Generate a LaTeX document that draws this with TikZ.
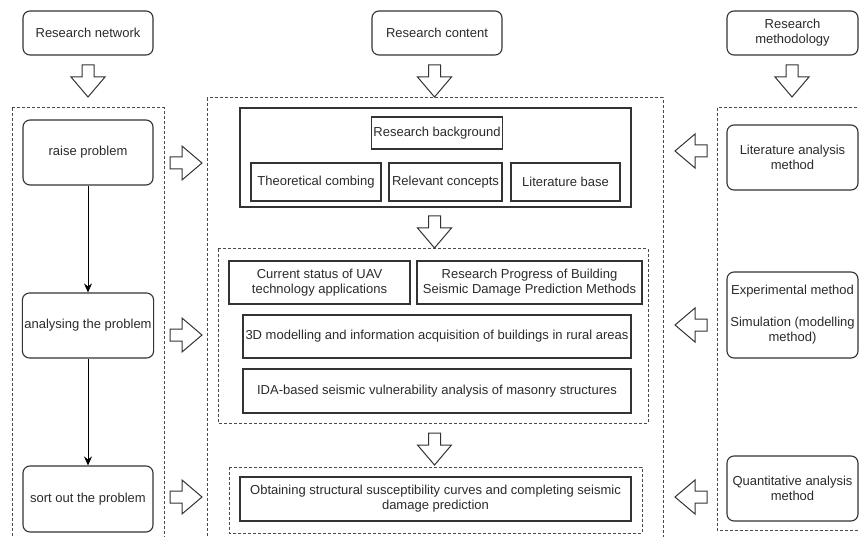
\documentclass[tikz,border=0pt]{standalone}
\usepackage{fontspec}
\setmainfont{Liberation Sans}
\usetikzlibrary{arrows.meta}
\definecolor{ink}{HTML}{2B2B2B}
\definecolor{edge}{HTML}{333333}
\definecolor{dash}{HTML}{4A4A4A}
\tikzset{
  base/.style={draw=edge, line width=1.1pt, text=ink, align=center,
    font=\fontsize{13}{15}\selectfont, inner sep=2pt},
  roundbox/.style={base, rounded corners=7pt},
  flatbox/.style={base},
  dashbox/.style={draw=dash, line width=1pt, dash pattern=on 3pt off 2pt},
  flow/.style={draw=black, line width=1pt, -{Stealth[length=9pt,width=8pt]}},
  blockarrow/.pic={
    \draw[draw=edge, line width=1pt, fill=white, line join=miter]
      (0,-6)--(12,-6)--(12,-17)--(32,0)--(12,17)--(12,6)--(0,6)--cycle;
  }
}
\begin{document}
\begin{tikzpicture}[x=1pt,y=-1pt]
\useasboundingbox (0,0) rectangle (859,537);
\clip (0,0) rectangle (859,537);
\fill[white] (0,0) rectangle (859,537);

% dashed group frames
\draw[dashbox] (12,108) rectangle (164,560);
\draw[dashbox] (207,98) rectangle (663,560);
\draw[dashbox] (717,108) rectangle (880,530);
\draw[dashbox] (218,249) rectangle (648,423);
\draw[dashbox] (229,467) rectangle (642,533);

% column headers
\node[roundbox, minimum width=130pt, minimum height=44pt] (rn) at (88,33) {Research network};
\node[roundbox, minimum width=130pt, minimum height=44pt] (rc) at (437,33) {Research content};
\node[roundbox, minimum width=131pt, minimum height=44pt] (rm) at (792.5,33) {Research\\methodology};

% problem chain
\node[roundbox, minimum width=130pt, minimum height=65pt] (p1) at (88,152.5) {raise problem};
\node[roundbox, minimum width=130pt, minimum height=65pt] (p2) at (88,325.5) {analysing the problem};
\node[roundbox, minimum width=130pt, minimum height=66pt] (p3) at (88,499) {sort out the problem};
\draw[flow] (p1) -- (p2);
\draw[flow] (p2) -- (p3);

% background block
\node[flatbox, minimum width=391pt, minimum height=99pt] (g1) at (435.5,157.5) {};
\node[flatbox, minimum width=130pt, minimum height=32pt] (bg) at (437,133) {Research background};
\node[flatbox, minimum width=130pt, minimum height=38pt] (tc) at (316,182) {Theoretical combing};
\node[flatbox, minimum width=113pt, minimum height=38pt] (rel) at (445.5,182) {Relevant concepts};
\node[flatbox, minimum width=109pt, minimum height=38pt] (lb) at (565.5,182) {Literature base};

% analysis block
\node[flatbox, minimum width=181pt, minimum height=43pt] (uav) at (319.5,282.5) {Current status of UAV\\technology applications};
\node[flatbox, minimum width=225pt, minimum height=43pt] (prog) at (529.5,282.5) {Research Progress of Building\\Seismic Damage Prediction Methods};
\node[flatbox, minimum width=388pt, minimum height=43pt] (m3d) at (437,336.5) {3D modelling and information acquisition of buildings in rural areas};
\node[flatbox, minimum width=388pt, minimum height=44pt] (ida) at (437,391) {IDA-based seismic vulnerability analysis of masonry structures};

% result block
\node[flatbox, minimum width=391pt, minimum height=44pt] (obt) at (435.5,499) {Obtaining structural susceptibility curves and completing seismic\\damage prediction};

% methods
\node[roundbox, minimum width=131pt, minimum height=65pt] (lit) at (792.5,157.5) {Literature analysis\\method};
\node[roundbox, minimum width=131pt, minimum height=86pt] (exp) at (792.5,315) {Experimental method\\[17pt]Simulation (modelling\\method)};
\node[roundbox, minimum width=131pt, minimum height=65pt] (qa) at (792.5,488.5) {Quantitative analysis\\method};

% hollow block arrows
\pic[rotate=-90] at (88,65) {blockarrow};
\pic[rotate=-90] at (434.5,65) {blockarrow};
\pic[rotate=-90] at (792,65) {blockarrow};
\pic[rotate=-90] at (434.5,216) {blockarrow};
\pic[rotate=-90] at (434.5,433) {blockarrow};
\pic at (170,163) {blockarrow};
\pic at (170,335) {blockarrow};
\pic at (170,497) {blockarrow};
\pic[rotate=180] at (707,151) {blockarrow};
\pic[rotate=180] at (707,325) {blockarrow};
\pic[rotate=180] at (707,497) {blockarrow};
\end{tikzpicture}
\end{document}
